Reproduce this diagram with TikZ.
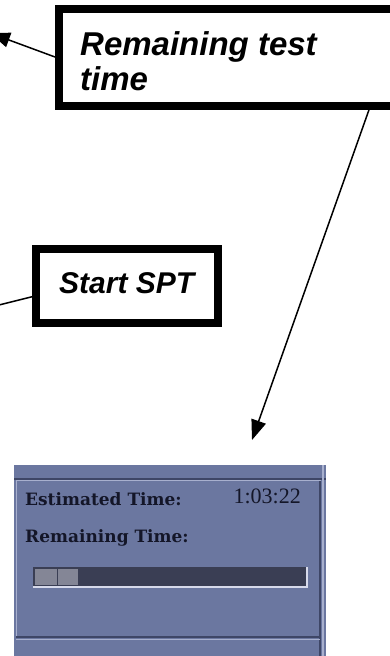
\documentclass[tikz,border=0pt]{standalone}
\usepackage{fontspec}
\setmainfont{Liberation Sans}
\newfontfamily\uiserif{DejaVu Serif}
\newfontfamily\timefont{Liberation Serif}
\usetikzlibrary{arrows.meta,calc}
\definecolor{panel}{RGB}{107,119,160}
\definecolor{paneldark}{RGB}{62,70,102}
\definecolor{panellight}{RGB}{168,176,206}
\definecolor{bardark}{RGB}{58,62,84}
\definecolor{barseg}{RGB}{132,134,150}
\definecolor{barlight}{RGB}{215,218,235}
\definecolor{uitext}{RGB}{20,22,40}
\begin{document}
\begin{tikzpicture}[x=1pt,y=-1pt,
  callout/.style={draw=black,line width=8pt,fill=white,rectangle,inner sep=0pt},
  calltext/.style={font=\fontsize{33}{38}\selectfont\bfseries\itshape,inner sep=0pt,anchor=base west},
  conn/.style={line width=1.5pt,black},
  tip/.style={-{Triangle[length=20pt,width=15pt]}},
  uilabel/.style={font=\uiserif\bfseries\fontsize{17}{19}\selectfont,text=uitext,inner sep=0pt,anchor=base west},
  uitime/.style={font=\timefont\fontsize{22}{24}\selectfont,text=uitext,inner sep=0pt,anchor=base east}]
\useasboundingbox (0,0) rectangle (390,656);
\clip (0,0) rectangle (390,656);

% screenshot panel
\fill[panel] (14,465) rectangle (326,660);
\draw[paneldark,line width=1.2pt] (14,479) -- (326,479);
\draw[panellight,line width=1.2pt] (16,480.5) -- (321,480.5);
\draw[panellight,line width=1.2pt] (16.5,480.5) -- (16.5,637);
\draw[paneldark,line width=1.2pt] (320,480.5) -- (320,656);
\draw[panellight,line width=1.2pt] (323,465) -- (323,656);
\draw[paneldark,line width=1.2pt] (16,637) -- (320,637);
\draw[panellight,line width=1.2pt] (16,639.5) -- (320,639.5);

\node[uilabel] (est) at (25,505) {Estimated Time:};
\node[uitime] (esttime) at (301,503) {1:03:22};
\node[uilabel] (rem) at (25,542) {Remaining Time:};

% progress bar
\fill[bardark] (33,567) rectangle (306,586);
\fill[barseg] (35,569) rectangle (78,585);
\draw[bardark,line width=1pt] (57,569) -- (57,585);
\draw[barlight,line width=1.5pt] (33,587) -- (307,587) -- (307,567);

% callout boxes
\node[callout,minimum width=341pt,minimum height=97pt] (box1) at (229.5,57) {};
\node[calltext] (t1a) at (80,55) {Remaining test};
\node[calltext] (t1b) at (80,90) {time};
\node[callout,minimum width=181.5pt,minimum height=73.5pt,
      font=\fontsize{30}{34}\selectfont\bfseries\itshape,
      text height=21.5pt,text depth=7pt] (box2) at (126.75,285.75) {Start SPT};

% connectors
\coordinate (tipA) at (-10,33);
\coordinate (tipB) at (252,440);
\coordinate (endC) at (-5,306);
\draw[conn,tip] (box1.west) -- (tipA);
\draw[conn,tip] ($(box1.south west)!0.9!(box1.south east)$) -- (tipB);
\draw[conn] ($(box2.west)+(0,11)$) -- (endC);
\end{tikzpicture}
\end{document}
